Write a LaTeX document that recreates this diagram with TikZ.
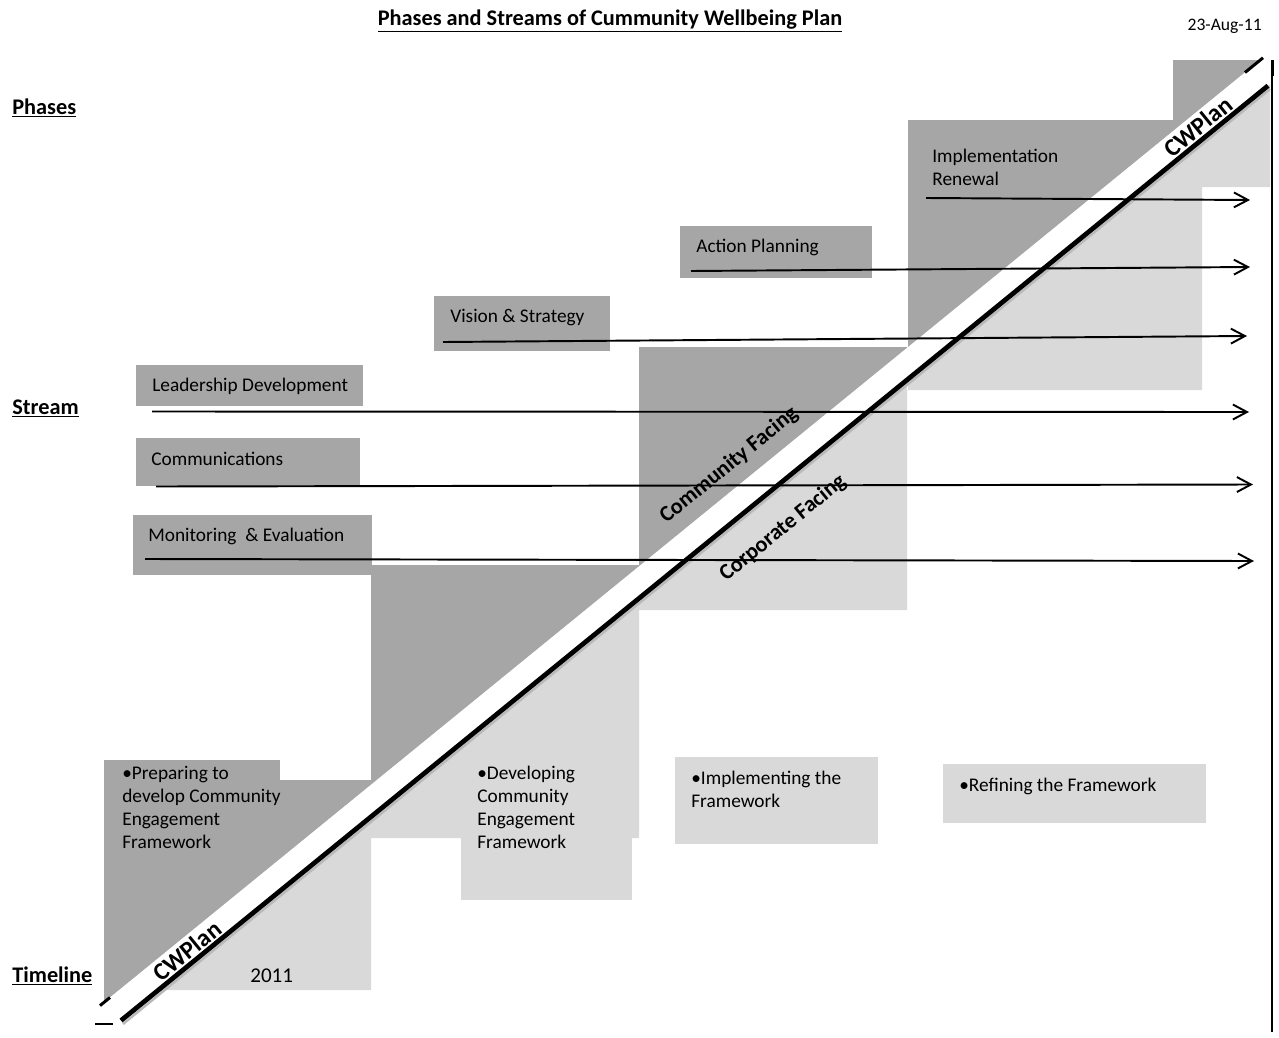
\documentclass[tikz,border=0pt]{standalone}
\usepackage{fontspec}
\setmainfont{Carlito}
\usetikzlibrary{arrows.meta, fit, positioning}
\definecolor{phasedark}{RGB}{166,166,166}
\definecolor{phaselight}{RGB}{217,217,217}

\begin{document}
\begin{tikzpicture}[x=0.02cm, y=-0.02cm, % one unit is one pixel of the sheet, y runs downwards
darkbox/.style={fill=phasedark, inner sep=0pt},
lightbox/.style={fill=phaselight, inner sep=0pt},
txt/.style={anchor=base west, inner sep=0pt, font=\fontsize{11}{13}\selectfont},
txtblock/.style={anchor=north west, inner sep=0pt, align=left, font=\fontsize{11}{13}\selectfont},
heading/.style={anchor=base west, inner sep=0pt, font=\fontsize{12.7}{15}\selectfont\bfseries},
diag/.style={rotate=39.2, inner sep=0pt, font=\fontsize{12.7}{15}\selectfont\bfseries},
flow/.style={-{Straight Barb[length=8pt,width=8.5pt]}, line width=1.1pt}]
\useasboundingbox (0,0) rectangle (1279,1038);

% the stairs, light part first, the dark part is only above the diagonal
\fill[phaselight] (104,780) rectangle (371,990) (371,565) rectangle (639,838) (639,347) rectangle (907,610) (908,120) rectangle (1202,390) (1173,60) rectangle (1270,187);
\begin{scope}
\clip (0,0) -- (1279,0) -- (1279,44.8) -- (0,1087.2) -- cycle; % everything above the upper edge of the band
\fill[phasedark] (104,780) rectangle (371,1010) (371,565) rectangle (639,838) (639,347) rectangle (907,610) (908,120) rectangle (1202,390) (1173,60) rectangle (1270,187);
\end{scope}

% the CWPlan band, white with the thick line under it
\fill[white] (104,1002.4) -- (1270,52.1) -- (1270,84.1) -- (119.7,1021.6) -- cycle;
\draw[gray!55, line width=1.4pt] (123,1024) -- (1270,89); % shadow
\draw[line width=2.7pt] (121,1020.5) -- (1268,85.7);
\draw[line width=1.7pt] (100,1005.6) -- (110,997.5);
\draw[line width=1.7pt] (1245,72.5) -- (1263,57.8);
\draw[line width=0.6pt] (1272,62) -- (1272,1032);
\draw[line width=1.7pt] (1272,60) -- (1272,76);
\draw[line width=0.6pt] (95,1024) -- (113,1024);

% boxes of the streams and phases
\node[darkbox, fit={(680,226) (872,278)}] (actplan-box) {};
\node[darkbox, fit={(434,296) (610,351)}] (vision-box) {};
\node[darkbox, fit={(136,365) (363,406)}] (lead-box) {};
\node[darkbox, fit={(136,438) (360,486)}] (comms-box) {};
\node[darkbox, fit={(133,515) (372,575)}] (monit-box) {};
\node[darkbox, fit={(104,760) (280,790)}] (prep-box) {};
\node[lightbox, fit={(461,760) (632,900)}] (devel-box) {};
\node[lightbox, fit={(675,757) (878,844)}] (impl-box) {};
\node[lightbox, fit={(943,764) (1206,823)}] (refine-box) {};

% texts
\node[heading, anchor=base] (title) at (610,25) {\underline{Phases and Streams of Cummunity Wellbeing Plan}};
\node[anchor=base east, inner sep=0pt, font=\fontsize{10}{12}\selectfont] (date) at (1262,30) {23-Aug-11};
\node[heading] (phases) at (12,114) {\underline{Phases}};
\node[heading] (stream) at (12,414) {\underline{Stream}};
\node[heading] (timeline) at (12,982) {\underline{Timeline}};

\node[txtblock] (renew) at (932,149) {Implementation\\Renewal};
\node[txt] (actplan) at (696,252) {Action Planning};
\node[txt] (vision) at (450,322) {Vision \& Strategy};
\node[txt] (lead) at (152,391) {Leadership Development};
\node[txt] (comms) at (151,465) {Communications};
\node[txt] (monit) at (148,541) {Monitoring\ \ \& Evaluation};

\node[txtblock] (prep) at (122,766) {•Preparing to\\develop Community\\Engagement\\Framework};
\node[txtblock] (devel) at (477,766) {•Developing\\Community\\Engagement\\Framework};
\node[txtblock] (impl) at (691,771) {•Implementing the\\Framework};
\node[txt] (refine) at (959,791) {•Refining the Framework};
\node[txt, font=\fontsize{12}{14}\selectfont] (year) at (250,982) {2011};

% labels along the diagonal
\node[diag, font=\fontsize{14}{16}\selectfont\bfseries] (cw-lo) at (187,951) {CWPlan};
\node[diag, font=\fontsize{14}{16}\selectfont\bfseries] (cw-hi) at (1198,126.5) {CWPlan};
\node[diag] (commf) at (729,465) {Community Facing};
\node[diag] (corpf) at (783,528) {Corporate Facing};

% the streams run to the right edge
\coordinate (renew-s) at (926,198); \coordinate (renew-e) at (1250,200);
\coordinate (act-s) at (691,271); \coordinate (act-e) at (1250,267);
\coordinate (vis-s) at (443,342); \coordinate (vis-e) at (1247,336);
\coordinate (lead-s) at (152,411.5); \coordinate (lead-e) at (1249,412);
\coordinate (comms-s) at (156,486.5); \coordinate (comms-e) at (1253,484.5);
\coordinate (monit-s) at (145,559); \coordinate (monit-e) at (1254,561);
\draw[flow] (renew-s) -- (renew-e);
\draw[flow] (act-s) -- (act-e);
\draw[flow] (vis-s) -- (vis-e);
\draw[flow] (lead-s) -- (lead-e);
\draw[flow] (comms-s) -- (comms-e);
\draw[flow] (monit-s) -- (monit-e);

\end{tikzpicture}
\end{document}
